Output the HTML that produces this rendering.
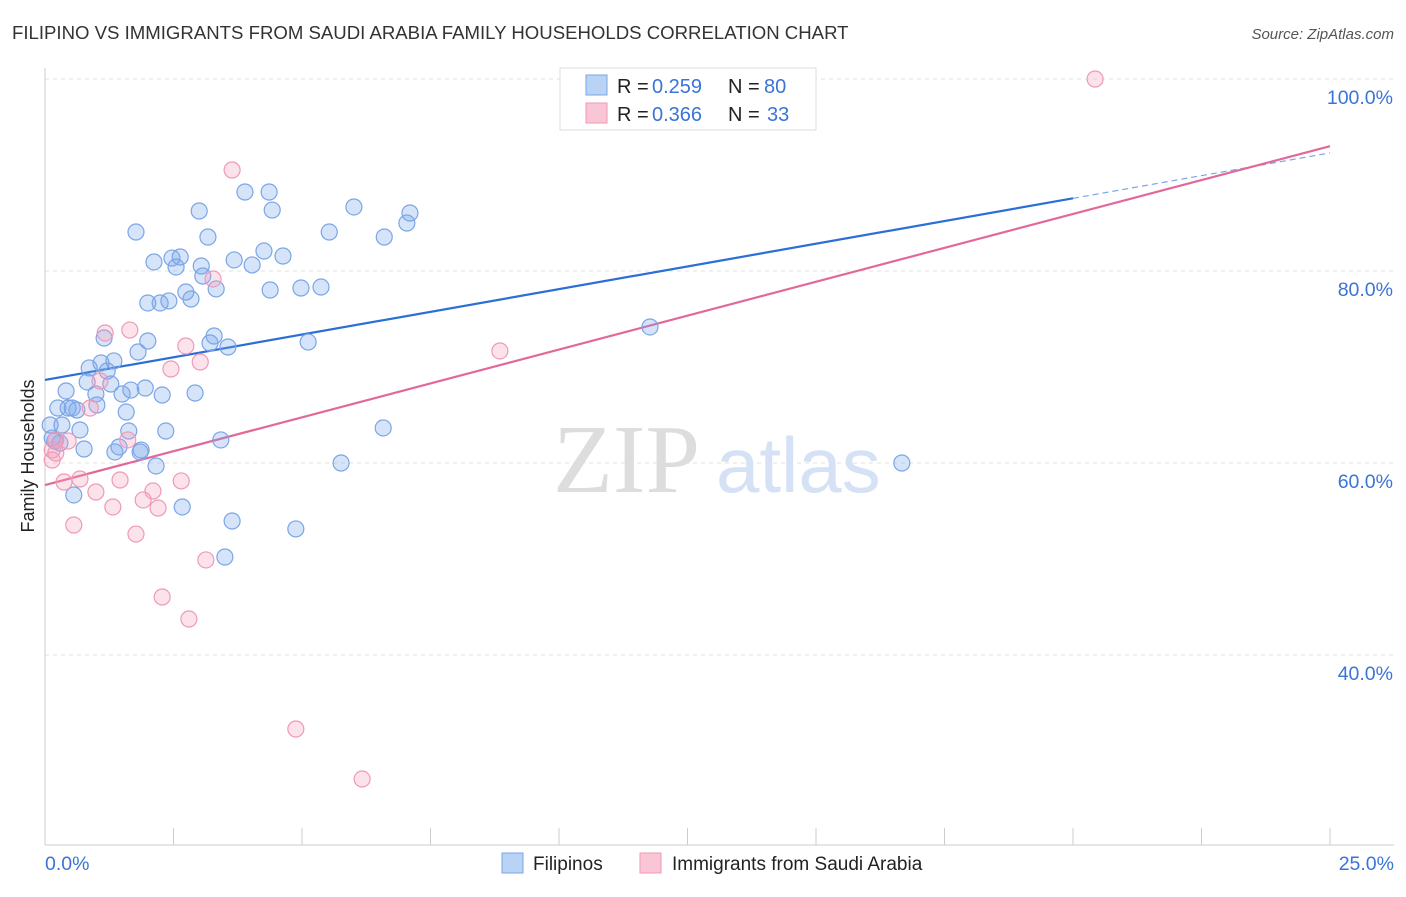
<!DOCTYPE html>
<html><head><meta charset="utf-8"><style>
body{margin:0;background:#fff;font-family:"Liberation Sans",sans-serif;}
</style></head><body>
<svg id="chart" width="1406" height="892" xmlns="http://www.w3.org/2000/svg">
<text x="12" y="39" font-size="18.6" fill="#333">FILIPINO VS IMMIGRANTS FROM SAUDI ARABIA FAMILY HOUSEHOLDS CORRELATION CHART</text>
<text x="1394" y="39" font-size="15" fill="#555" font-style="italic" text-anchor="end">Source: ZipAtlas.com</text>
<text x="34" y="456" font-size="18" fill="#222" text-anchor="middle" transform="rotate(-90 34 456)">Family Households</text>
<g id="grid"></g>
<g id="ticks"></g>
<text x="553" y="492" font-size="98" fill="#ddd" font-family="Liberation Serif,serif">ZIP</text>
<text x="716" y="492" font-size="78" fill="#d5e2f5">atlas</text>
<g id="lines"></g>
<g id="points"></g>
<g>
<rect x="560" y="68" width="256" height="62" fill="#fff" stroke="#ddd"/>
<rect x="586" y="75" width="21" height="20" fill="#b9d3f5" stroke="#7aa5e6"/>
<rect x="586" y="103" width="21" height="20" fill="#f9c6d6" stroke="#ee9ab5"/>
<text x="617" y="93" font-size="20" fill="#222">R =</text>
<text x="652" y="93" font-size="20" fill="#3a74d6">0.259</text>
<text x="728" y="93" font-size="20" fill="#222">N =</text>
<text x="764" y="93" font-size="20" fill="#3a74d6">80</text>
<text x="617" y="121" font-size="20" fill="#222">R =</text>
<text x="652" y="121" font-size="20" fill="#3a74d6">0.366</text>
<text x="728" y="121" font-size="20" fill="#222">N =</text>
<text x="767" y="121" font-size="20" fill="#3a74d6">33</text>
</g>
<g>
<rect x="502" y="853" width="21" height="20" fill="#b9d3f5" stroke="#7aa5e6"/>
<text x="533" y="870" font-size="19" fill="#222">Filipinos</text>
<rect x="640" y="853" width="21" height="20" fill="#f9c6d6" stroke="#ee9ab5"/>
<text x="672" y="870" font-size="19" fill="#222">Immigrants from Saudi Arabia</text>
</g>
</svg>
<script>
const blueX=[1.77,3.00,3.89,4.36,4.42,6.01,7.10,7.04,6.60,5.53,3.17,2.12,2.47,2.63,2.55,3.04,3.07,3.68,4.03,4.26,4.63,2.00,2.24,2.41,2.74,2.84,3.33,4.38,4.98,5.37,1.15,2.00,1.81,3.29,3.21,3.56,5.12,11.77,0.86,1.34,1.09,0.82,1.21,1.28,0.41,0.99,1.50,1.67,1.95,2.28,2.92,0.25,0.45,0.62,1.01,1.58,0.53,0.33,0.68,1.63,2.35,0.10,0.14,0.19,0.29,0.76,1.36,1.44,1.87,3.42,6.58,2.16,5.76,16.67,0.56,2.67,3.64,4.88,3.50,1.85];
const blueY=[84.06,86.25,88.23,88.23,86.35,86.67,86.04,85.0,83.54,84.06,83.54,80.94,81.35,81.46,80.42,80.52,79.48,81.15,80.63,82.08,81.56,76.67,76.67,76.88,77.81,77.08,78.13,78.02,78.23,78.33,73.02,72.71,71.56,73.23,72.5,72.08,72.6,74.17,69.9,70.63,70.42,68.44,69.58,68.23,67.5,67.19,67.19,67.6,67.81,67.08,67.29,65.73,65.73,65.52,66.04,65.31,65.73,63.96,63.44,63.33,63.33,63.96,62.6,62.29,62.08,61.46,61.15,61.67,61.35,62.4,63.65,59.69,60.0,60.0,56.67,55.42,53.96,53.13,50.21,61.15];
const pinkX=[20.43,3.64,3.27,1.17,1.65,2.74,2.45,3.02,8.85,0.88,1.07,0.21,0.45,0.14,0.14,0.21,1.61,0.37,0.68,0.99,1.46,2.10,2.65,1.32,1.91,2.20,0.56,1.77,3.13,2.28,2.80,4.88,6.17];
const pinkY=[100,90.52,79.17,73.54,73.85,72.19,69.79,70.52,71.67,65.73,68.54,62.4,62.29,61.35,60.31,61.04,62.4,58.02,58.33,56.98,58.23,57.08,58.13,55.42,56.15,55.31,53.54,52.6,49.9,46.04,43.75,32.29,27.08];
const blueTrend=[68.65,92.3];
const pinkTrend=[57.7,93.0];
const yTicks=[100,80,60,40];
const xTickVals=[0,2.5,5,7.5,10,12.5,15,17.5,20,22.5,25];
const NS='http://www.w3.org/2000/svg';
const sx=v=>45+v*51.4;
const sy=v=>79+(100-v)*9.6;
function mk(tag,attrs,parent){const e=document.createElementNS(NS,tag);for(const k in attrs)e.setAttribute(k,attrs[k]);parent.appendChild(e);return e;}
const grid=document.getElementById('grid'),ticks=document.getElementById('ticks');
mk('line',{x1:45,y1:68,x2:45,y2:845,stroke:'#ccc'},ticks);
mk('line',{x1:45,y1:845,x2:1394,y2:845,stroke:'#ccc'},ticks);
yTicks.forEach(t=>{
 const l=mk('line',{x1:45,x2:1394,y1:sy(t),y2:sy(t),stroke:'#e2e2e2','stroke-dasharray':'4,4'},grid);
 
 
 const tx=mk('text',{x:1393,y:sy(t)+25,'font-size':19.5,fill:'#3a74d6','text-anchor':'end'},ticks);
 tx.textContent=t.toFixed(1)+'%';
 
 
});
xTickVals.forEach((t,i)=>{
 if(i===0)return;
 const l=mk('line',{x1:sx(t),x2:sx(t),y1:828,y2:845,stroke:'#ccc'},ticks);
 
 
});
[[0,'start',45],[25,'end',1394]].forEach(([v,a,x])=>{
 const tx=mk('text',{x:x,y:870,'font-size':19.5,fill:'#3a74d6','text-anchor':a},ticks);
 tx.textContent=v.toFixed(1)+'%';
 
 
});
const lines=document.getElementById('lines');
const bl=mk('line',{x1:sx(0),y1:sy(blueTrend[0]),x2:sx(20),y2:sy(blueTrend[0]+(blueTrend[1]-blueTrend[0])*0.8),stroke:'#2b6fd6','stroke-width':2.2},lines);


const bd=mk('line',{x1:sx(20),y1:sy(blueTrend[0]+(blueTrend[1]-blueTrend[0])*0.8),x2:sx(25),y2:sy(blueTrend[1]),stroke:'#7aa5e6','stroke-width':1.2,'stroke-dasharray':'6,4'},lines);


const pl=mk('line',{x1:sx(0),y1:sy(pinkTrend[0]),x2:sx(25),y2:sy(pinkTrend[1]),stroke:'#e2689a','stroke-width':2.2},lines);


const pts=document.getElementById('points');
blueX.forEach((x,i)=>{
 const c=mk('circle',{cx:sx(x),cy:sy(blueY[i]),r:8,fill:'rgba(120,165,235,0.3)',stroke:'#7aa5e6','stroke-width':1.2},pts);
 
 
});
pinkX.forEach((x,i)=>{
 const c=mk('circle',{cx:sx(x),cy:sy(pinkY[i]),r:8,fill:'rgba(245,160,190,0.3)',stroke:'#ee9ab5','stroke-width':1.2},pts);
 
 
});
</script>
</body></html>
